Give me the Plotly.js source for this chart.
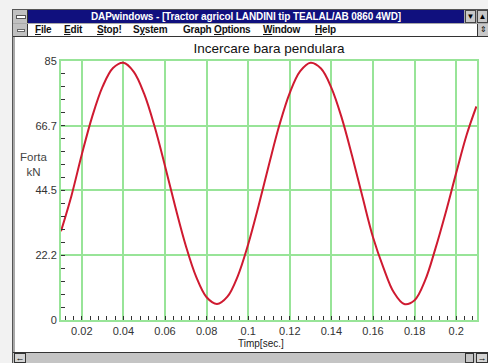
<!DOCTYPE html>
<html>
<head>
<meta charset="utf-8">
<script src="https://cdn.plot.ly/plotly-3.0.1.min.js"></script>
<style>
  html, body { margin:0; padding:0; width:488px; height:363px; overflow:hidden; background:#f2f2f2; font-family:"Liberation Sans", Arial, sans-serif; }
  .abs { position:absolute; box-sizing:border-box; }
  #win { left:12px; top:9px; width:480px; height:360px; background:#a9a9a9; border:1px solid #555; }
  #sys { left:13px; top:10px; width:15px; height:13px; background:#c0c0c0; border-right:1px solid #333; }
  #sys::after { content:""; position:absolute; left:3px; top:5px; width:8px; height:2px; background:#fff; border:1px solid #555; }
  #titlebar { left:28px; top:10px; width:436px; height:13px; background:#10107e; color:#fff; font-weight:bold; font-size:10px; line-height:13px; text-align:center; white-space:nowrap; letter-spacing:-0.1px; }
  .btn { top:10px; width:11px; height:13px; background:#c8c8c8; border:1px solid #444; font-size:8px; line-height:11px; text-align:center; color:#000; }
  #menubar { left:13px; top:24px; width:475px; height:13px; background:#fff; border-bottom:1px solid #333; font-size:10px; font-weight:bold; line-height:12px; color:#111; white-space:nowrap; letter-spacing:-0.2px; }
  #menusys { left:13px; top:24px; width:15px; height:12px; background:#c0c0c0; border-right:1px solid #333; }
  #menusys::after { content:""; position:absolute; left:4px; top:5px; width:6px; height:1px; background:#fff; border:1px solid #666; }
  .mi { position:absolute; top:0; }
  #client { left:15px; top:37px; width:473px; height:315px; background:#fff; }
  #scroll { left:13px; top:352px; width:475px; height:11px; background:#c4c4c4; border-top:1px solid #333; }
  .sbtn { top:353px; height:10px; background:#d4d4d4; border:1px solid #333; font-size:9px; line-height:8px; text-align:center; color:#000; }
  #chart { left:0; top:0; width:488px; height:363px; }
</style>
</head>
<body>
<div id="win" class="abs"></div>
<div id="sys" class="abs"></div>
<div id="titlebar" class="abs">DAPwindows - [Tractor agricol LANDINI tip TEALAL/AB 0860 4WD]</div>
<div class="abs btn" style="left:465px;">&#9660;</div>
<div class="abs btn" style="left:477px;">&#9650;</div>
<div id="menubar" class="abs">
  <span class="mi" style="left:22px;"><u>F</u>ile</span>
  <span class="mi" style="left:51px;"><u>E</u>dit</span>
  <span class="mi" style="left:84px;"><u>S</u>top!</span>
  <span class="mi" style="left:120px;">S<u>y</u>stem</span>
  <span class="mi" style="left:170px;">Graph <u>O</u>ptions</span>
  <span class="mi" style="left:250px;"><u>W</u>indow</span>
  <span class="mi" style="left:302px;"><u>H</u>elp</span>
</div>
<div id="menusys" class="abs"></div>
<div class="abs" style="left:477px;top:24px;width:11px;height:12px;background:#c8c8c8;border-left:1px solid #333;font-size:8px;line-height:12px;text-align:center;">&#8661;</div>
<div id="client" class="abs"></div>
<div id="scroll" class="abs"></div>
<div class="abs sbtn" style="left:14px;width:12px;">&#8592;</div>
<div class="abs sbtn" style="left:465px;width:9px;background:#c4c4c4;"></div>
<div class="abs sbtn" style="left:476px;width:12px;">&#8594;</div>
<div id="chart" class="abs"></div>
<script>
// Data
const timeSec = [0.010, 0.015, 0.020, 0.025, 0.030, 0.035, 0.040, 0.045, 0.050, 0.055,
                 0.060, 0.065, 0.070, 0.075, 0.080, 0.085, 0.090, 0.095, 0.100, 0.105,
                 0.110, 0.115, 0.120, 0.125, 0.130, 0.135, 0.140, 0.145, 0.150, 0.155,
                 0.160, 0.165, 0.170, 0.175, 0.180, 0.185, 0.190, 0.195, 0.200, 0.205, 0.2097];
const forceKN = [30.5, 42.6, 56.8, 69.8, 80.1, 86.5, 88.3, 85.2, 77.6, 66.4,
                 52.9, 38.7, 25.5, 14.8, 7.8, 5.5, 8.0, 15.1, 26.0, 39.2,
                 53.4, 66.9, 78.0, 85.4, 88.3, 86.3, 79.7, 69.3, 56.2, 42.1,
                 28.4, 18.0, 9.5, 5.5, 6.8, 13.5, 24.5, 37.0, 50.5, 63.5, 73.3];
const xTickVals = [0.02, 0.04, 0.06, 0.08, 0.10, 0.12, 0.14, 0.16, 0.18, 0.20];
const xTickText = ["0.02", "0.04", "0.06", "0.08", "0.1", "0.12", "0.14", "0.16", "0.18", "0.2"];
const yTickVals = [0, 22.2, 44.5, 66.7, 88.9];
const yTickText = ["0", "22.2", "44.5", "66.7", "85"];
const xMinorStep = 0.004;
const yMinorStep = 4.445;
const chartTitle = "Incercare bara pendulara";
const xTitle = "Timp[sec.]";
const yTitle = "Forta<br>kN";

const xRange = [0.01, 0.21];
const yRange = [0, 88.9];
const grid = "#98e498";
const trace = {
  x: timeSec, y: forceKN, type: "scatter", mode: "lines",
  line: { color: "#cf1a30", width: 2, shape: "spline", smoothing: 1 },
  hoverinfo: "skip"
};
// empty helper traces so the minor-tick overlay axes get drawn
const helperX = { x: [null], y: [null], xaxis: "x2", yaxis: "y", type: "scatter", mode: "lines", hoverinfo: "skip" };
const helperY = { x: [null], y: [null], xaxis: "x", yaxis: "y2", type: "scatter", mode: "lines", hoverinfo: "skip" };
const minorAxis = { tickmode: "linear", tick0: 0, ticks: "inside", ticklen: 4, tickwidth: 1, tickcolor: "#333",
                    showticklabels: false, showgrid: false, zeroline: false, showline: false };
const layout = {
  width: 488, height: 363,
  margin: { l: 61, r: 11, t: 61, b: 43 },
  paper_bgcolor: "rgba(0,0,0,0)", plot_bgcolor: "rgba(0,0,0,0)",
  font: { family: "Liberation Sans, Arial, sans-serif", size: 11, color: "#222" },
  showlegend: false,
  title: { text: chartTitle, x: 0.5, xref: "paper", xanchor: "center",
           y: 1 - 48 / 363, yref: "container", yanchor: "middle",
           font: { size: 13.5, color: "#111" } },
  xaxis: {
    range: xRange, tickmode: "array", tickvals: xTickVals, ticktext: xTickText,
    showgrid: true, gridcolor: grid, gridwidth: 2, zeroline: false,
    showline: true, linecolor: grid, linewidth: 2, mirror: true,
    ticks: "", tickfont: { size: 11, color: "#333" }
  },
  yaxis: {
    range: yRange, tickmode: "array", tickvals: yTickVals, ticktext: yTickText,
    showgrid: true, gridcolor: grid, gridwidth: 2, zeroline: false,
    showline: true, linecolor: grid, linewidth: 2, mirror: true,
    ticks: "", tickfont: { size: 11, color: "#333" }
  },
  xaxis2: Object.assign({}, minorAxis, { overlaying: "x", anchor: "y", side: "bottom", range: xRange, dtick: xMinorStep }),
  yaxis2: Object.assign({}, minorAxis, { overlaying: "y", anchor: "x", side: "left", range: yRange, dtick: yMinorStep }),
  annotations: [
    { text: xTitle, xref: "paper", yref: "paper", x: 0.48, y: -0.091, showarrow: false,
      xanchor: "center", yanchor: "middle", font: { size: 10, color: "#222" } },
    { text: yTitle, xref: "paper", yref: "paper", x: -0.065, y: 0.599, showarrow: false,
      xanchor: "center", yanchor: "middle", font: { size: 11.5, color: "#444" } }
  ]
};
Plotly.newPlot("chart", [trace, helperX, helperY], layout, { staticPlot: true, displayModeBar: false });
</script>
</body>
</html>
